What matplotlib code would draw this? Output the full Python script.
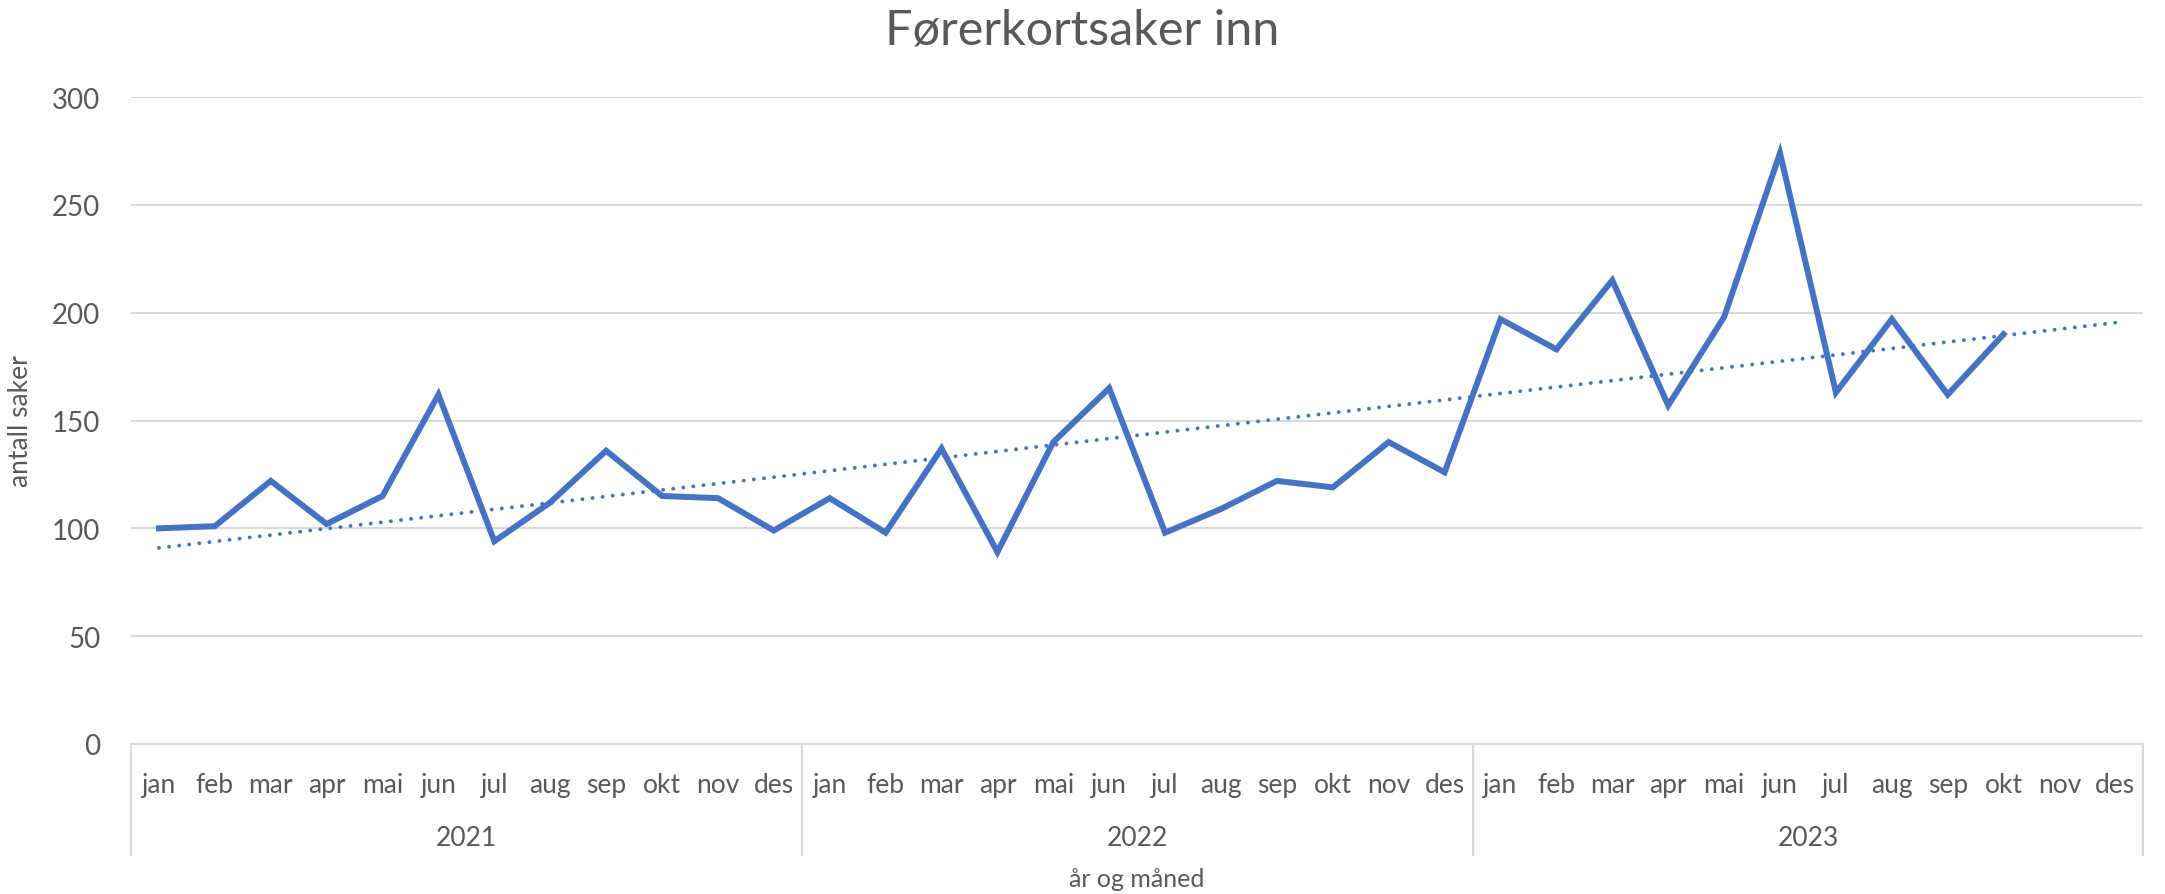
import numpy as np
import matplotlib
matplotlib.use("Agg")
import matplotlib.pyplot as plt
import matplotlib.transforms as mtransforms

plt.rcParams['font.family'] = ['Lato', 'DejaVu Sans']

# data
months = ["jan", "feb", "mar", "apr", "mai", "jun", "jul", "aug", "sep", "okt", "nov", "des"]
years = ["2021", "2022", "2023"]
saker_2021 = [100, 101, 122, 102, 115, 162, 94, 112, 136, 115, 114, 99]
saker_2022 = [114, 98, 137, 89, 140, 165, 98, 109, 122, 119, 140, 126]
saker_2023 = [197, 183, 215, 157, 198, 274, 163, 197, 162, 190]

BLUE = "#4472C4"
TXT = "#595959"
GRID = "#D9D9D9"

values = saker_2021 + saker_2022 + saker_2023
n_slots = len(months) * len(years)
x = np.arange(len(values))

# linear trend like Excel, extended to the end of the axis
coef = np.polyfit(x, values, 1)
xt = np.arange(n_slots)
yt = np.polyval(coef, xt)

fig = plt.figure(figsize=(21.65, 8.95), dpi=100)
ax = fig.add_axes([0.0605, 0.1676, 0.9295, 0.7229])

ax.plot(x, values, color=BLUE, lw=4.3, solid_joinstyle="miter", zorder=3)
ax.plot(xt, yt, color=BLUE, lw=2.8, linestyle=(0, (0.01, 2.6)), dash_capstyle="round", zorder=2)

ax.set_xlim(-0.5, n_slots - 0.5)
ax.set_ylim(0, 300)
ax.set_yticks(range(0, 301, 50))
ax.grid(axis="y", color=GRID, lw=1.5)
ax.set_axisbelow(True)
for s in ["top", "right", "left"]:
    ax.spines[s].set_visible(False)
ax.spines["bottom"].set_color(GRID)
ax.spines["bottom"].set_linewidth(1.5)
ax.tick_params(axis="y", length=0, labelsize=20, labelcolor=TXT, pad=22)

ax.set_xticks(xt)
ax.set_xticklabels(months * len(years))
ax.tick_params(axis="x", length=0, labelsize=19, labelcolor=TXT, pad=20)

trans = mtransforms.blended_transform_factory(ax.transData, ax.transAxes)
for i, yr in enumerate(years):
    mid = i * 12 + 5.5
    ax.text(mid, -0.144, yr, transform=trans, ha="center", va="center",
            fontsize=19, color=TXT)
for i in range(len(years) + 1):
    xb = i * 12 - 0.5
    ax.plot([xb, xb], [0, -0.172], transform=trans, color=GRID, lw=1.5, clip_on=False)

ax.set_ylabel("antall saker", fontsize=19, color=TXT, labelpad=14)
ax.text(0.5, -0.208, "år og måned", transform=ax.transAxes, ha="center", va="center",
        fontsize=18, color=TXT)
fig.suptitle("Førerkortsaker inn", fontsize=35, color=TXT, y=0.99)

fig.savefig("out.png", dpi=100, facecolor="white")
